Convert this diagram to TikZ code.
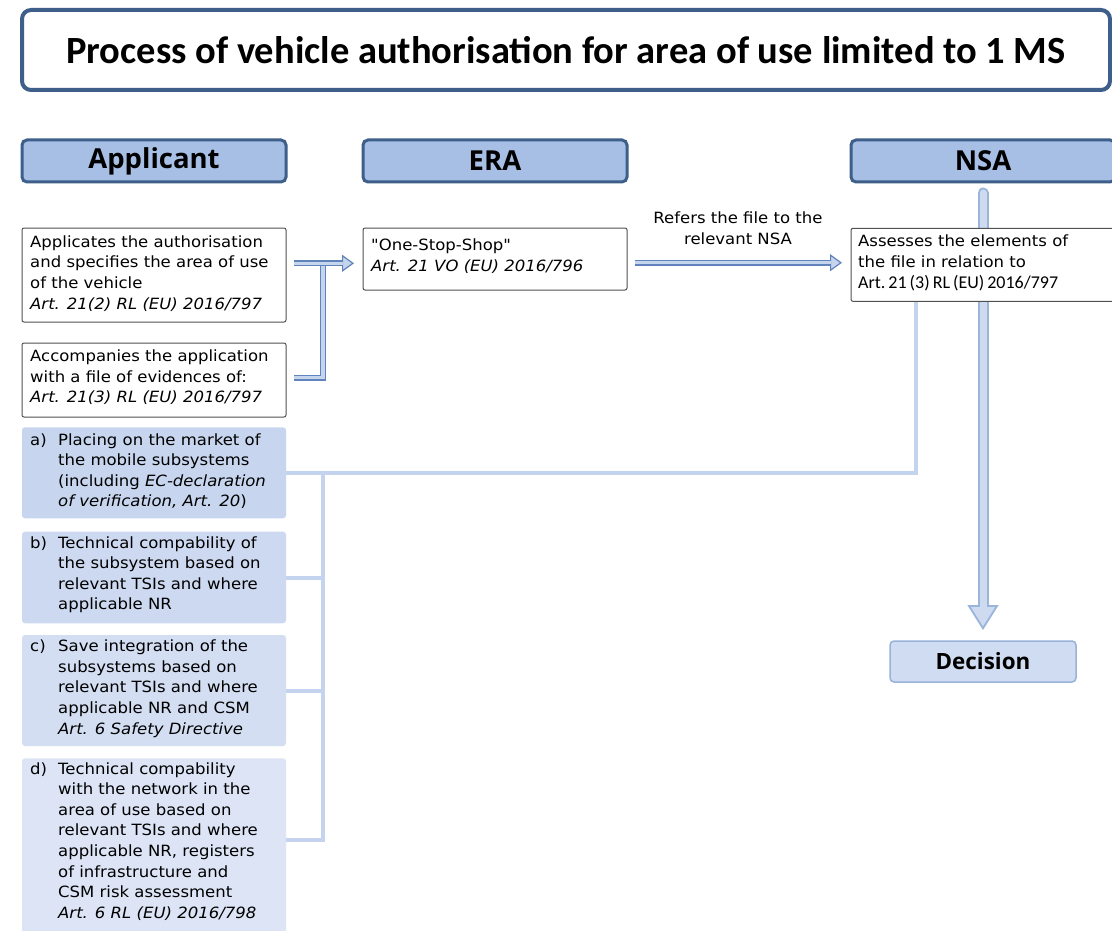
\documentclass[tikz,border=0pt]{standalone}
\usepackage{fontspec}
\setmainfont[FakeStretch=1.065,Ligatures=TeXOff]{DejaVu Sans}
\newfontfamily\headfont{Carlito}
\newfontfamily\hdfont{Open Sans}
\usetikzlibrary{arrows.meta,calc}
\definecolor{darkb}{HTML}{3D5F8A}
\definecolor{headfill}{HTML}{A7BEE5}
\definecolor{arrowedge}{HTML}{6183BB}
\definecolor{arrowfill}{HTML}{C6D5EE}
\definecolor{connc}{HTML}{C5D4EE}
\definecolor{bigedge}{HTML}{9AB4DA}
\definecolor{bigfill}{HTML}{CDDAF0}
\definecolor{fillA}{HTML}{C7D6EE}
\definecolor{fillB}{HTML}{CDD9F0}
\definecolor{fillC}{HTML}{D3DEF2}
\definecolor{fillD}{HTML}{DCE4F5}
\definecolor{decfill}{HTML}{CFDCF1}
\definecolor{decedge}{HTML}{98B2DA}
\definecolor{boxedge}{HTML}{505050}
\newcommand{\mylines}[1]{\begin{tabular}[t]{@{}l@{}}#1\end{tabular}}
\newcommand{\myitem}[2]{\begin{tabular}[t]{@{}p{28pt}@{}l@{}}#1&\mylines{#2}\end{tabular}}
\begin{document}
\begin{tikzpicture}[x=1pt,y=-1pt,
  frame/.style={anchor=north west, inner sep=0pt, outer sep=0pt},
  titlebox/.style={frame, draw=darkb, line width=4pt, rounded corners=9pt, fill=white},
  headbox/.style={frame, draw=darkb, line width=3pt, rounded corners=5pt, fill=headfill,
    font=\hdfont\bfseries\fontsize{27.5}{30}\selectfont},
  whitebox/.style={frame, draw=boxedge, line width=1pt, rounded corners=2pt, fill=white},
  itembox/.style={frame, rounded corners=3pt, minimum width=264pt},
  bodytext/.style={anchor=base west, inner sep=0pt, font=\fontsize{15.5}{20.6}\selectfont},
  hollow/.style={draw=arrowedge, line width=6pt,
    -{Triangle[length=12pt,width=17pt,line width=1.2pt,fill=arrowfill]},
    postaction={draw=arrowfill, line width=3.2pt, -, shorten >=11pt}},
  hollowline/.style={draw=arrowedge, line width=6pt,
    postaction={draw=arrowfill, line width=3.2pt}},
  conn/.style={draw=connc, line width=4pt},
  bigarrow/.style={draw=bigedge, line width=11pt, line cap=round,
    -{Triangle[length=25pt,width=31pt,line width=1.8pt,fill=bigfill]},
    postaction={draw=bigfill, line width=7pt, line cap=round, -, shorten >=23pt}}
]
\useasboundingbox (0,0) rectangle (1112,931);
\clip (0,0) rectangle (1112,931);
\fill[white] (0,0) rectangle (1112,931);

% title
\node[titlebox, minimum width=1088pt, minimum height=80pt,
  font=\headfont\bfseries\fontsize{38.5}{40}\selectfont] (title) at (22,10)
  {Process of vehicle authorisation for area of use limited to 1 MS};

% headers
\node[headbox, minimum width=264pt, minimum height=42pt] (happ) at (22,140) {Applicant};
\node[headbox, minimum width=264pt, minimum height=42pt] (hera) at (363,140) {ERA};
\node[headbox, minimum width=264pt, minimum height=42pt] (hnsa) at (851,140) {NSA};

% decision
\node[frame, draw=decedge, line width=1.5pt, rounded corners=4pt, fill=decfill,
  minimum width=186pt, minimum height=41pt,
  font=\hdfont\bfseries\fontsize{22.4}{25}\selectfont] (dec) at (890,641) {Decision};

% big arrow NSA -> Decision
\draw[bigarrow] ([yshift=-11pt]hnsa.south) -- ([yshift=11pt]dec.north);

% item boxes
\node[itembox, fill=fillA, minimum height=91pt] (ita) at (22,427.3) {};
\node[itembox, fill=fillB, minimum height=91.6pt] (itb) at (22,531.7) {};
\node[itembox, fill=fillC, minimum height=111pt] (itc) at (22,635) {};
\node[itembox, fill=fillD, minimum height=190pt] (itd) at (22,758.3) {};

\node[bodytext] (ta) at (30,445) {\myitem{a)}{Placing on the market of\\the mobile subsystems\\(including \textit{EC-declaration}\\\textit{of verification, Art. 20})}};
\node[bodytext] (tb) at (30,548) {\myitem{b)}{Technical compability of\\the subsystem based on\\relevant TSIs and where\\applicable NR}};
\node[bodytext] (tc) at (30,651.7) {\myitem{c)}{Save integration of the\\subsystems based on\\relevant TSIs and where\\applicable NR and CSM\\\textit{Art. 6 Safety Directive}}};
\node[bodytext] (td) at (30,774) {\myitem{d)}{Technical compability\\with the network in the\\area of use based on\\relevant TSIs and where\\applicable NR, registers\\of infrastructure and\\CSM risk assessment\\\textit{Art. 6 RL (EU) 2016/798}}};

% connectors from items
\coordinate (busend) at (323,840);
\draw[conn] (ita.east -| busend) -- (busend) -- (busend -| itd.east);
\draw[conn] (itb.east) -- (itb.east -| busend);
\draw[conn] (itc.east) -- (itc.east -| busend);

% white boxes
\node[whitebox, minimum width=264pt, minimum height=94pt] (box1) at (22,228) {};
\node[bodytext] (t1) at (30,247.3) {\mylines{Applicates the authorisation\\and specifies the area of use\\of the vehicle\\\textit{Art. 21(2) RL (EU) 2016/797}}};
\node[whitebox, minimum width=264pt, minimum height=74pt] (box2) at (22,343) {};
\node[bodytext] (t2) at (30,361.7) {\mylines{Accompanies the application\\with a file of evidences of:\\\textit{Art. 21(3) RL (EU) 2016/797}}};
\node[whitebox, minimum width=264pt, minimum height=62pt] (boxera) at (363,228) {};
\node[bodytext] (tera) at (371,250.6) {\mylines{"One-Stop-Shop"\\\textit{Art. 21 VO (EU) 2016/796}}};

% connector a) -> NSA box (drawn before NSA box)
\draw[conn] (ita.east) -| (916,301);
\node[whitebox, minimum width=264pt, minimum height=73pt] (boxnsa) at (851,228.3) {};
\node[bodytext] (tnsa) at (858,247) {\mylines{Assesses the elements of\\the file in relation to\\{\headfont\fontsize{18}{20.6}\selectfont Art.\,21\,(3)\,RL\,(EU)\,2016/797}}};

% hollow arrows
\draw[hollowline] ([xshift=8pt]box2.east |- 0,377.5) -| (323,263);
\draw[hollow] ([xshift=8pt]box1.east |- 0,263.3) -- ([xshift=-9pt]boxera.west |- 0,263.3);
\draw[hollow] ([xshift=8pt]boxera.east |- 0,262.7) -- ([xshift=-9pt]boxnsa.west |- 0,262.7);

\node[anchor=base, inner sep=0pt, font=\fontsize{15.5}{20.6}\selectfont] (lbl) at (738,223.5)
  {\begin{tabular}[t]{@{}c@{}}Refers the file to the\\relevant NSA\end{tabular}};
\end{tikzpicture}
\end{document}
